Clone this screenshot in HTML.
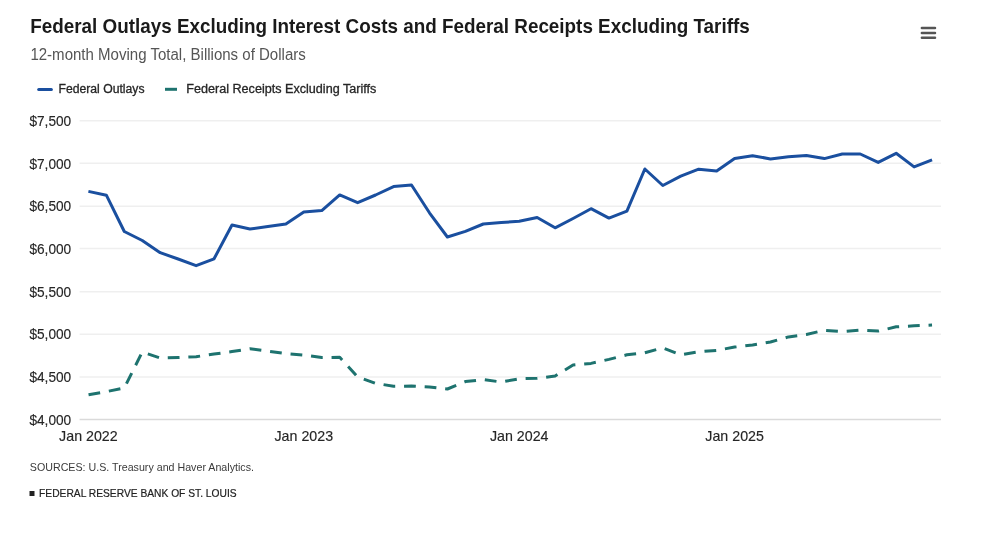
<!DOCTYPE html>
<html><head><meta charset="utf-8"><title>Federal Outlays Excluding Interest Costs and Federal Receipts Excluding Tariffs</title>
<style>html,body{margin:0;padding:0;background:#fff;width:1004px;height:534px;overflow:hidden;}</style>
</head><body>
<svg width="1004" height="534" viewBox="0 0 1004 534" style="display:block;font-family:'Liberation Sans', sans-serif;will-change:transform">
<rect width="1004" height="534" fill="#ffffff"/>
<text x="30.2" y="33" font-size="19.8" font-weight="bold" fill="#1a1a1a" textLength="719.5" lengthAdjust="spacingAndGlyphs">Federal Outlays Excluding Interest Costs and Federal Receipts Excluding Tariffs</text>
<text x="30.4" y="59.8" font-size="16" fill="#555555" textLength="275.4" lengthAdjust="spacingAndGlyphs">12-month Moving Total, Billions of Dollars</text>
<g stroke="#555555" stroke-width="2.5" stroke-linecap="round"><line x1="921.9" y1="28.0" x2="935.0" y2="28.0"/><line x1="921.9" y1="32.9" x2="935.0" y2="32.9"/><line x1="921.9" y1="37.8" x2="935.0" y2="37.8"/></g>
<line x1="38.7" y1="89.4" x2="51.4" y2="89.4" stroke="#1a4f9f" stroke-width="3" stroke-linecap="round"/>
<text x="58.5" y="92.9" font-size="12" fill="#262626" stroke="#262626" stroke-width="0.3" textLength="86" lengthAdjust="spacingAndGlyphs">Federal Outlays</text>
<line x1="165" y1="89.3" x2="177" y2="89.3" stroke="#1e736f" stroke-width="3"/>
<text x="186.3" y="92.9" font-size="12" fill="#262626" stroke="#262626" stroke-width="0.3" textLength="190" lengthAdjust="spacingAndGlyphs">Federal Receipts Excluding Tariffs</text>
<line x1="79.6" y1="120.70" x2="941" y2="120.70" stroke="#efefef" stroke-width="1.4"/>
<text x="71.2" y="125.8" font-size="14.6" fill="#262626" stroke="#262626" stroke-width="0.15" text-anchor="end" textLength="41.8" lengthAdjust="spacingAndGlyphs">$7,500</text>
<line x1="79.6" y1="163.30" x2="941" y2="163.30" stroke="#efefef" stroke-width="1.4"/>
<text x="71.2" y="168.5" font-size="14.6" fill="#262626" stroke="#262626" stroke-width="0.15" text-anchor="end" textLength="41.8" lengthAdjust="spacingAndGlyphs">$7,000</text>
<line x1="79.6" y1="206.20" x2="941" y2="206.20" stroke="#efefef" stroke-width="1.4"/>
<text x="71.2" y="211.1" font-size="14.6" fill="#262626" stroke="#262626" stroke-width="0.15" text-anchor="end" textLength="41.8" lengthAdjust="spacingAndGlyphs">$6,500</text>
<line x1="79.6" y1="248.50" x2="941" y2="248.50" stroke="#efefef" stroke-width="1.4"/>
<text x="71.2" y="253.8" font-size="14.6" fill="#262626" stroke="#262626" stroke-width="0.15" text-anchor="end" textLength="41.8" lengthAdjust="spacingAndGlyphs">$6,000</text>
<line x1="79.6" y1="291.70" x2="941" y2="291.70" stroke="#efefef" stroke-width="1.4"/>
<text x="71.2" y="296.5" font-size="14.6" fill="#262626" stroke="#262626" stroke-width="0.15" text-anchor="end" textLength="41.8" lengthAdjust="spacingAndGlyphs">$5,500</text>
<line x1="79.6" y1="334.20" x2="941" y2="334.20" stroke="#efefef" stroke-width="1.4"/>
<text x="71.2" y="339.2" font-size="14.6" fill="#262626" stroke="#262626" stroke-width="0.15" text-anchor="end" textLength="41.8" lengthAdjust="spacingAndGlyphs">$5,000</text>
<line x1="79.6" y1="377.00" x2="941" y2="377.00" stroke="#efefef" stroke-width="1.4"/>
<text x="71.2" y="381.8" font-size="14.6" fill="#262626" stroke="#262626" stroke-width="0.15" text-anchor="end" textLength="41.8" lengthAdjust="spacingAndGlyphs">$4,500</text>
<line x1="79.6" y1="419.50" x2="941" y2="419.50" stroke="#dadada" stroke-width="1.4"/>
<text x="71.2" y="424.5" font-size="14.6" fill="#262626" stroke="#262626" stroke-width="0.15" text-anchor="end" textLength="41.8" lengthAdjust="spacingAndGlyphs">$4,000</text>
<text x="88.40" y="440.6" font-size="14.4" fill="#262626" stroke="#262626" stroke-width="0.15" text-anchor="middle" textLength="58.6" lengthAdjust="spacingAndGlyphs">Jan 2022</text>
<text x="303.80" y="440.6" font-size="14.4" fill="#262626" stroke="#262626" stroke-width="0.15" text-anchor="middle" textLength="58.6" lengthAdjust="spacingAndGlyphs">Jan 2023</text>
<text x="519.20" y="440.6" font-size="14.4" fill="#262626" stroke="#262626" stroke-width="0.15" text-anchor="middle" textLength="58.6" lengthAdjust="spacingAndGlyphs">Jan 2024</text>
<text x="734.60" y="440.6" font-size="14.4" fill="#262626" stroke="#262626" stroke-width="0.15" text-anchor="middle" textLength="58.6" lengthAdjust="spacingAndGlyphs">Jan 2025</text>
<path d="M 88.40 394.80 L 106.35 391.60 L 124.30 388.00 L 142.25 352.00 L 160.20 358.00 L 178.15 357.50 L 196.10 356.70 L 214.05 354.10 L 232.00 351.60 L 249.95 348.80 L 267.90 351.10 L 285.85 353.60 L 303.80 355.10 L 321.75 357.60 L 339.70 357.30 L 357.65 376.90 L 375.60 383.30 L 393.55 386.30 L 411.50 386.10 L 429.45 387.00 L 447.40 389.00 L 465.35 381.60 L 483.30 379.60 L 501.25 382.00 L 519.20 378.80 L 537.15 378.30 L 555.10 376.00 L 573.05 365.00 L 591.00 363.40 L 608.95 359.40 L 626.90 354.80 L 644.85 352.80 L 662.80 347.80 L 680.75 354.80 L 698.70 351.80 L 716.65 350.40 L 734.60 347.10 L 752.55 345.00 L 770.50 342.00 L 788.45 336.90 L 806.40 334.50 L 824.35 330.30 L 842.30 331.60 L 860.25 330.20 L 878.20 331.10 L 896.15 326.80 L 914.10 325.80 L 932.05 325.10" fill="none" stroke="#1e736f" stroke-width="3" stroke-dasharray="11.78 8.84" stroke-dashoffset="-0.15" stroke-linejoin="round"/>
<path d="M 88.40 191.40 L 106.35 195.20 L 124.30 231.50 L 142.25 240.50 L 160.20 252.70 L 178.15 259.00 L 196.10 265.70 L 214.05 258.80 L 232.00 225.00 L 249.95 229.00 L 267.90 226.60 L 285.85 223.90 L 303.80 211.90 L 321.75 210.60 L 339.70 194.90 L 357.65 202.70 L 375.60 195.00 L 393.55 186.60 L 411.50 185.00 L 429.45 212.80 L 447.40 237.00 L 465.35 231.40 L 483.30 224.00 L 501.25 222.60 L 519.20 221.20 L 537.15 217.50 L 555.10 227.80 L 573.05 218.50 L 591.00 208.70 L 608.95 218.10 L 626.90 211.20 L 644.85 169.00 L 662.80 185.50 L 680.75 176.20 L 698.70 169.20 L 716.65 170.90 L 734.60 158.50 L 752.55 155.70 L 770.50 158.90 L 788.45 156.80 L 806.40 155.40 L 824.35 158.60 L 842.30 154.00 L 860.25 154.00 L 878.20 162.40 L 896.15 153.30 L 914.10 166.90 L 932.05 159.90" fill="none" stroke="#1a4f9f" stroke-width="3" stroke-linejoin="round" stroke-linecap="butt"/>
<text x="29.8" y="470.8" font-size="11.3" fill="#3a3a3a" textLength="224.2" lengthAdjust="spacingAndGlyphs">SOURCES: U.S. Treasury and Haver Analytics.</text>
<rect x="29.5" y="491" width="5" height="5" fill="#222222"/>
<text x="39.1" y="496.7" font-size="11.3" fill="#222222" stroke="#222222" stroke-width="0.2" textLength="197.5" lengthAdjust="spacingAndGlyphs">FEDERAL RESERVE BANK OF ST. LOUIS</text>
</svg>
</body></html>
